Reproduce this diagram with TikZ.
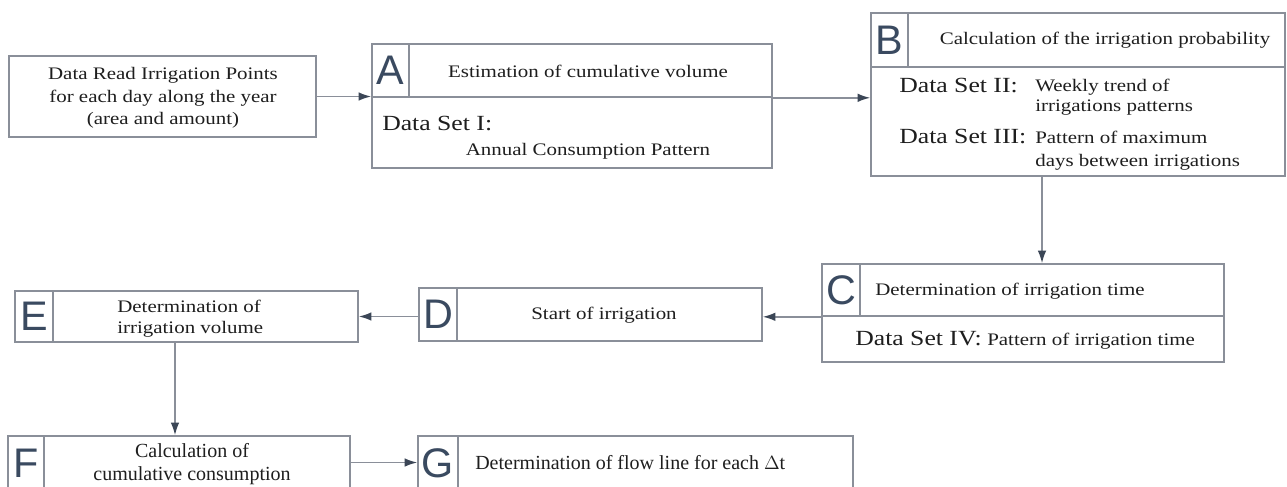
\documentclass[tikz,border=0pt]{standalone}
\usepackage{fontspec}
\setmainfont[FakeStretch=1.19]{Liberation Serif}
\newfontfamily\plainserif{Liberation Serif}
\newfontfamily\lettersans{Liberation Sans}
\usetikzlibrary{arrows.meta,fit}
\definecolor{lg}{HTML}{8A8F99}
\definecolor{ac}{HTML}{3B4656}
\definecolor{lc}{HTML}{3A4A60}
\definecolor{tc}{HTML}{1E1E1E}
\tikzset{
  box/.style={draw=lg, line width=1.2pt, inner sep=0pt},
  lettertext/.style={font=\lettersans\fontsize{31}{31}\selectfont, text=lc, inner sep=0pt},
  arr/.style={draw=lg, line width=1.2pt, -{Latex[length=9.5pt,width=6.5pt,color=ac]}},
  txt/.style={font=\fontsize{13.2}{17}\selectfont, text=tc, inner sep=0pt},
  ds/.style={font=\fontsize{16.2}{18}\selectfont, text=tc, inner sep=0pt},
  plaintxt/.style={font=\plainserif\fontsize{15}{17}\selectfont, text=tc, inner sep=0pt},
}
\begin{document}
\begin{tikzpicture}[x=0.75pt,y=-0.75pt]
\clip (0,0) rectangle (1287,486);
\fill[white] (0,0) rectangle (1287,486);

% Input box
\node[box, fit={(9,56)(316,137)}] (data) {};
\node[txt, align=center] (datat) at (163,98) {Data Read Irrigation Points\\for each day along the year\\(area and amount)};

% A
\node[box, fit={(372,44)(772,168)}] (A) {};
\node[box, fit={(372,44)(772,97)}] (Ah) {};
\node[box, fit={(372,44)(409,97)}] (Al) {};
\node[lettertext] (AL) at (Al.center) {A};
\node[txt] (At) at (588,71) {Estimation of cumulative volume};
\node[ds, anchor=base west] (Ad) at (382,130) {Data Set I:};
\node[txt, anchor=base] (Ap) at (588,155) {Annual Consumption Pattern};

% B
\node[box, fit={(871,13)(1285,176)}] (B) {};
\node[box, fit={(871,13)(1285,67)}] (Bh) {};
\node[box, fit={(871,13)(908,67)}] (Bl) {};
\node[lettertext] (BL) at (Bl.center) {B};
\node[txt] (Bt) at (1105,40) {Calculation of the irrigation probability};
\node[ds, anchor=base west] (Bd2) at (899,92) {Data Set II:};
\node[txt, anchor=base west] (Bw1) at (1035,91) {Weekly trend of};
\node[txt, anchor=base west] (Bw2) at (1035,111) {irrigations patterns};
\node[ds, anchor=base west] (Bd3) at (899,143) {Data Set III:};
\node[txt, anchor=base west] (Bp1) at (1035,143) {Pattern of maximum};
\node[txt, anchor=base west] (Bp2) at (1035,166) {days between irrigations};

% C
\node[box, fit={(822,264)(1224,362)}] (C) {};
\node[box, fit={(822,264)(1224,316)}] (Ch) {};
\node[box, fit={(822,264)(860,316)}] (Cl) {};
\node[lettertext] (CL) at (Cl.center) {C};
\node[txt, anchor=west] (Ct) at (875,291) {Determination of irrigation time};
\node[ds, anchor=base west] (Cd) at (855,345) {Data Set IV:};
\node[txt, anchor=base west] (Cp) at (987,345) {Pattern of irrigation time};

% D
\node[box, fit={(419,288)(762,341)}] (D) {};
\node[box, fit={(419,288)(457,341)}] (Dl) {};
\node[lettertext] (DL) at (Dl.center) {D};
\node[txt] (Dt) at (604,315) {Start of irrigation};

% E
\node[box, fit={(15,291)(358,342)}] (E) {};
\node[box, fit={(15,291)(53,342)}] (El) {};
\node[lettertext] (EL) at (El.center) {E};
\node[txt, anchor=base west] (Et1) at (117,312) {Determination of};
\node[txt, anchor=base west] (Et2) at (117,333) {irrigation volume};

% F
\node[box, fit={(8,436)(350,489)}] (F) {};
\node[box, fit={(8,436)(44,489)}] (Fl) {};
\node[lettertext] (FL) at (26,463) {F};
\node[plaintxt, anchor=base] (Ft1) at (192,457) {Calculation of};
\node[plaintxt, anchor=base] (Ft2) at (192,480) {cumulative consumption};

% G
\node[box, fit={(418,436)(853,489)}] (G) {};
\node[box, fit={(418,436)(458,489)}] (Gl) {};
\node[lettertext] (GL) at (438,463) {G};
\node[plaintxt, anchor=west] (Gt) at (475,463) {Determination of flow line for each $\Delta$t};

% connectors
\coordinate (bc) at (1042,176);
\coordinate (ef) at (175,342);
\draw[arr] (data.east) -- (data.east -| A.west);
\draw[arr] (Ah.south east) -- (Ah.south east -| B.west);
\draw[arr] (bc) -- (bc |- C.north);
\draw[arr] (Ch.south west) -- (Ch.south west -| D.east);
\draw[arr] (D.west |- E.east) -- (E.east);
\draw[arr] (ef) -- (ef |- F.north);
\draw[arr] (F.east) -- (F.east -| G.west);
\end{tikzpicture}
\end{document}
